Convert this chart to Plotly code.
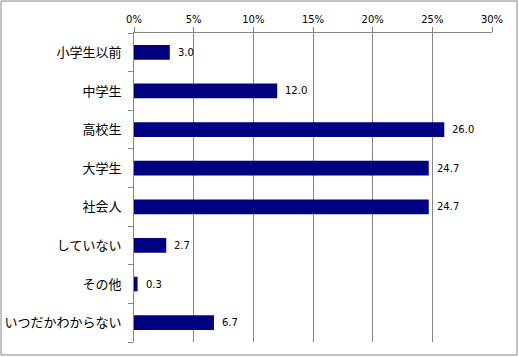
import plotly.graph_objects as go

categories = ["小学生以前", "中学生", "高校生", "大学生", "社会人", "していない", "その他", "いつだかわからない"]
values = [3.0, 12.0, 26.0, 24.7, 24.7, 2.7, 0.3, 6.7]
tick_vals = [0, 5, 10, 15, 20, 25, 30]
tick_text = ["0%", "5%", "10%", "15%", "20%", "25%", "30%"]

n = len(categories)
boundaries = [i - 0.5 for i in range(n + 1)]

fig = go.Figure(go.Bar(
    y=categories, x=values, orientation="h",
    marker=dict(color="#000080", line=dict(width=0)),
    width=0.38,
))
# invisible helper trace so the boundary tick axis is drawn
fig.add_trace(go.Scatter(x=[None], y=[None], yaxis="y2", mode="markers",
                         hoverinfo="skip", showlegend=False))

for c, v in zip(categories, values):
    fig.add_annotation(x=v, y=c, text=f"{v:.1f}", showarrow=False,
                       xanchor="left", xshift=6,
                       font=dict(family="Verdana, DejaVu Sans", size=10, color="#000000"))

fig.update_layout(
    width=519, height=357,
    margin=dict(l=134, r=27, t=33, b=15),
    paper_bgcolor="white", plot_bgcolor="white",
    showlegend=False,
    font=dict(family="Noto Sans CJK JP", size=12, color="#000000"),
    xaxis=dict(
        side="top", range=[0, 30], tickvals=tick_vals, ticktext=tick_text,
        showgrid=True, gridcolor="#868686", gridwidth=1,
        showline=True, linecolor="#868686", linewidth=1,
        ticks="outside", ticklen=5, tickcolor="#868686",
        tickfont=dict(family="Verdana, DejaVu Sans", size=10, color="#000000"),
        zeroline=False, fixedrange=True, automargin=False,
    ),
    yaxis=dict(
        autorange="reversed", categoryorder="array", categoryarray=categories,
        showline=True, linecolor="#868686", linewidth=1,
        ticks="", ticklabelstandoff=9,
        tickfont=dict(family="Noto Sans CJK JP", size=13, color="#000000"),
        showgrid=False, zeroline=False, fixedrange=True, automargin=False,
    ),
    yaxis2=dict(
        overlaying="y", side="left", type="linear",
        range=[n - 0.5, -0.5], tickvals=boundaries, showticklabels=False,
        ticks="outside", ticklen=5, tickcolor="#868686", tickwidth=1,
        showline=False, showgrid=False, zeroline=False, fixedrange=True,
        automargin=False,
    ),
)
fig.add_shape(type="rect", xref="paper", yref="paper",
              x0=-133/358, x1=1+25/358, y0=-13/309, y1=1+32/309,
              line=dict(color="#868686", width=1), layer="below")

fig.write_html("out.html", config={"displayModeBar": False},
               post_script="document.body.style.margin='0';")
